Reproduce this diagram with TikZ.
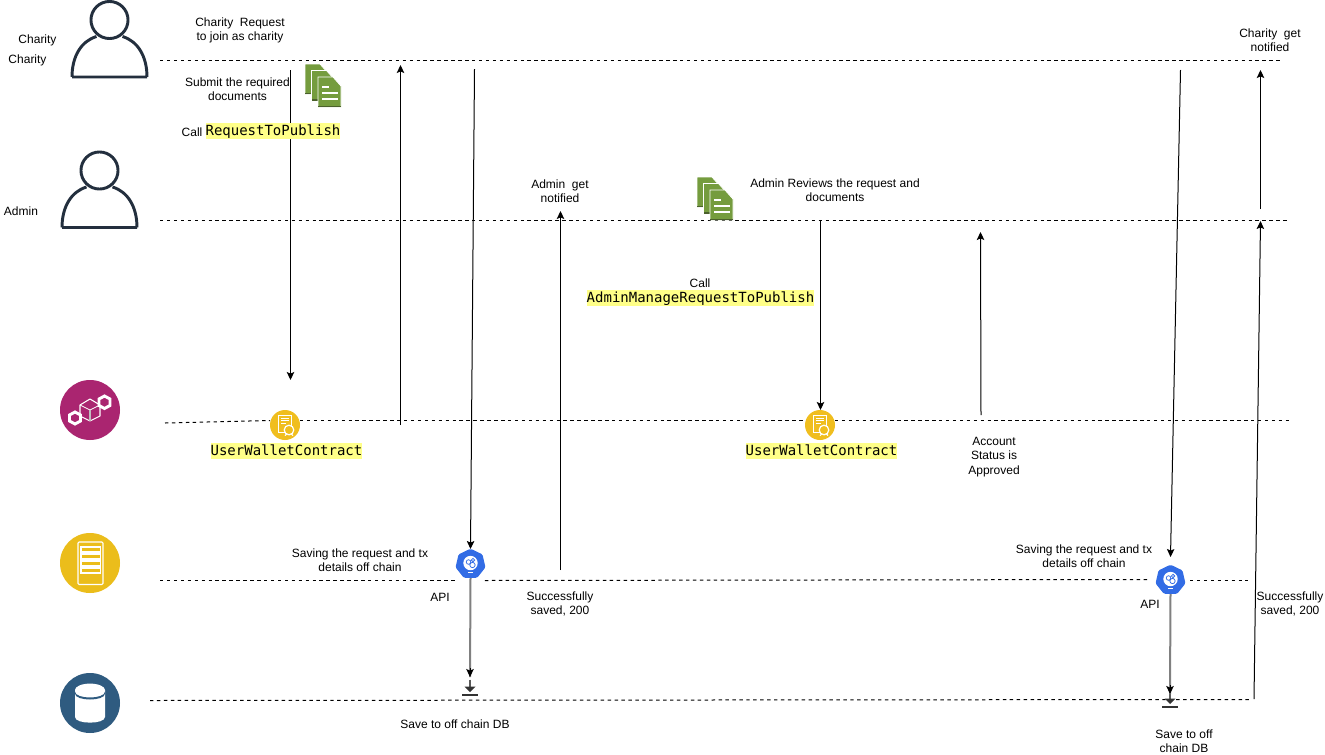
\documentclass[tikz,border=0pt]{standalone}
\usepackage{fontspec}
\setmainfont{Liberation Sans}
\setmonofont{DejaVu Sans Mono}
\usetikzlibrary{arrows.meta,shapes.geometric}
\definecolor{actorc}{HTML}{232F3E}
\definecolor{docc}{HTML}{759C3E}
\definecolor{docd}{HTML}{4B612C}
\definecolor{contractc}{HTML}{F0BE1E}
\definecolor{chainc}{HTML}{AA2570}
\definecolor{serverc}{HTML}{EBBD1B}
\definecolor{dbc}{HTML}{2F5B80}
\definecolor{kubec}{HTML}{326CE5}
\definecolor{hl}{HTML}{FFFF88}
\tikzset{
  lifeline/.style={draw=black,line width=.75pt,dash pattern=on 2.6pt off 2.6pt},
  msg/.style={draw=black,line width=.75pt,-{Stealth[length=6pt,width=5.6pt,inset=1.2pt]}},
  gmsg/.style={draw=gray,line width=1.5pt},
  gtip/.style={draw=black,line width=.75pt,-{Stealth[length=6pt,width=5.6pt,inset=1.2pt]}},
  lbl/.style={align=center,inner sep=0pt,font=\fontsize{9}{10.6}\selectfont},
  code/.style={inner sep=0pt,fill=hl,font=\ttfamily\fontsize{10.5}{12}\selectfont,text height=9.6pt,text depth=2.4pt},
  badge/.style={circle,inner sep=0pt,minimum size=45pt},
  contract/.style={circle,inner sep=0pt,minimum size=22.5pt,fill=contractc},
  kube/.style={regular polygon,regular polygon sides=7,inner sep=0pt,minimum size=23pt,fill=kubec,rounded corners=1pt},
  actorline/.style={draw=actorc,line width=2.2pt,line join=round},
  pics/actorpic/.style={code={
    \draw[actorline] (0,0) circle[radius=13.9pt];
    \draw[actorline] (-37.5,57) -- (37.5,57) (-37.5,57) .. controls (-37.5,36) and (-28,21) .. (-13,16.5)
       (37.5,57) .. controls (37.5,36) and (28,21) .. (13,16.5);
  }},
  pics/docspic/.style={code={
    \foreach \d in {0,6.5,13}{
      \fill[docc,draw=white,line width=.6pt] (\d,\d) -- (\d+15,\d) -- (\d+23,\d+9) -- (\d+23,\d+30) -- (\d,\d+30) -- cycle;
      \fill[docd] (\d,\d+28.8) rectangle (\d+23,\d+30);
    }
    \draw[white,line width=.9pt] (17,23) -- (24,23) (17,29) -- (33,29) (17,35) -- (33,35);
  }},
  pics/certpic/.style={code={
    \draw[white,line width=.6pt,fill=contractc] (-6.5,-10) rectangle (6.5,7);
    \draw[white,line width=.6pt] (-4,-7) -- (4,-7) (-4,-4.5) -- (4,-4.5) (-4,-2) -- (1,-2);
    \draw[white,line width=.9pt,fill=contractc] (4,5) circle[radius=3.6pt];
    \draw[white,line width=.8pt] (0,10.5) -- (2,8.5) (8,10.5) -- (6,8.5);
  }},
  pics/kubepic/.style={code={
    \fill[white] (0,-1) circle[radius=5.4pt];
    \draw[kubec,line width=.55pt] (-2,-2) circle[radius=1.7pt] (2.5,-4) circle[radius=1.3pt] (2,1) circle[radius=2pt];
    \fill[white] (-2.5,8) rectangle (2.5,9);
  }},
  pics/storepic/.style={code={
    \draw[gray!70!black,line width=2pt] (0,-15) -- (0,-6);
    \fill[gray!40!black] (-5.5,-8) -- (5.5,-8) -- (0,-2.5) -- cycle;
    \fill[gray!40!black] (-8,-1) rectangle (8,1.2);
  }},
}
\begin{document}
\begin{tikzpicture}[x=.75pt,y=-.75pt]
\useasboundingbox (0,0) rectangle (1325,754);
\fill[white] (0,0) rectangle (1325,754);

% lifeline anchors
\coordinate (lc1) at (160,60.5);  \coordinate (lc2) at (1280,60.5);
\coordinate (la1) at (160,220.5); \coordinate (la2) at (1290,220.5);
\coordinate (lb1) at (165,423);   \coordinate (lb2) at (1290,420.5);
\coordinate (ls1) at (160,580.5); \coordinate (ls2) at (1148,579.5);
\coordinate (ls3) at (1190,580.5); \coordinate (ls4) at (1248,580.5);
\coordinate (ld1) at (150,700.5); \coordinate (ld2) at (1252,699.5);

% contract and api nodes
\node[contract] (c1) at (285,425) {};
\node[contract] (c2) at (820,425) {};
\node[kube] (k1) at (470.5,564) {};
\node[kube] (k2) at (1170.5,580) {};
\pic at (285,425) {certpic};
\pic at (820,425) {certpic};
\pic at (470.5,564) {kubepic};
\pic at (1170.5,580) {kubepic};

% lifelines
\draw[lifeline] (lc1) -- (lc2);
\draw[lifeline] (la1) -- (la2);
\draw[lifeline] (lb1) -- (270,420.5);
\draw[lifeline] (300,420.5) -- (805,420.5);
\draw[lifeline] (835,420.5) -- (lb2);
\draw[lifeline] (ls1) -- (k1.west |- ls1);
\draw[lifeline] (k1.east |- ls1) -- (ls2);
\draw[lifeline] (ls3) -- (ls4);
\draw[lifeline] (ld1) -- (ld2);

% actors and badges
\pic at (109.5,20) {actorpic};
\pic at (99.5,170.5) {actorpic};
\node[badge,fill=chainc] (chain) at (90,410) {};
\node[badge,fill=serverc] (server) at (90,563) {};
\node[badge,fill=dbc] (db) at (90,703) {};

% chain glyph
\draw[white,line width=.8pt,line join=round] (90,399) -- (100,405) -- (100,416) -- (90,421) -- (80,416) -- (80,405) -- cycle;
\draw[white,line width=.6pt] (80,405) -- (90,410) -- (100,405);
\draw[gray!50!white,line width=.8pt] (90,410) -- (90,421);
\draw[white,line width=2.2pt] (104.5,396) -- (110,399) -- (110,405.5) -- (104.5,408.5) -- (99,405.5) -- (99,399) -- cycle;
\draw[white,line width=2.2pt] (75,412) -- (80.5,415) -- (80.5,421) -- (75,424) -- (69.5,421) -- (69.5,415) -- cycle;
% server glyph
\draw[white,line width=.8pt,rounded corners=.8pt] (78,542) rectangle (103,584.5);
\foreach \yy in {547,554,561,568}{
  \draw[white,line width=.8pt,fill=serverc] (81,\yy) rectangle (100.5,\yy+5);
}
% db glyph
\fill[white] (75,690) -- (75,717) .. controls (75,724.5) and (105,724.5) .. (105,717) -- (105,690) -- cycle;
\fill[white] (90,690) ellipse[x radius=11.25pt,y radius=4.8pt];
\fill[dbc] (75,691.5) .. controls (75,699.5) and (105,699.5) .. (105,691.5) -- (105,693.5) .. controls (105,701.5) and (75,701.5) .. (75,693.5) -- cycle;

% documents
\pic at (305,64) {docspic};
\pic at (697,177) {docspic};

% stores
\pic at (470,694.5) {storepic};
\pic at (1170,706.5) {storepic};

% messages
\coordinate (m1a) at (290.5,70);   \coordinate (m1b) at (290.5,380);
\coordinate (m2a) at (400.5,425);  \coordinate (m2b) at (400.5,65);
\coordinate (m3a) at (474.5,69);   \coordinate (m3b) at (470.5,549);
\coordinate (m4a) at (560.5,570);  \coordinate (m4b) at (560.5,211);
\coordinate (m5a) at (820.5,220.5);\coordinate (m5b) at (820.5,410);
\coordinate (m6a) at (981,415);    \coordinate (m6b) at (980.5,232);
\coordinate (m7a) at (1180.5,70);  \coordinate (m7b) at (1170.5,557);
\coordinate (m8a) at (1260.5,209); \coordinate (m8b) at (1260.5,70);
\coordinate (m9a) at (1254,699);   \coordinate (m9b) at (1260.5,221);
\coordinate (g1) at (470,677);     \coordinate (g2) at (1170,694);
\draw[msg] (m1a) -- (m1b);
\draw[msg] (m2a) -- (m2b);
\draw[msg] (m3a) -- (m3b);
\draw[msg] (m4a) -- (m4b);
\draw[msg] (m5a) -- (m5b);
\draw[msg] (m6a) -- (m6b);
\draw[msg] (m7a) -- (m7b);
\draw[msg] (m8a) -- (m8b);
\draw[msg] (m9a) -- (m9b);
\draw[gmsg] (k1.south) -- (g1);
\draw[gmsg] (k2.south) -- (g2);
\draw[gtip] (470,668) -- (g1);
\draw[gtip] (1170,685) -- (g2);

% labels
\node[lbl] (t1) at (37.5,40) {Charity};
\node[lbl] (t2) at (27.5,60) {Charity};
\node[lbl] (t3) at (240,30) {Charity\ \ Request\\to join as charity};
\node[lbl] (t4) at (237.5,89) {Submit the required\\documents};
\node[lbl] (t5) at (192,132) {Call};
\node[code] (t6) at (273,131) {RequestToPublish};
\node[lbl] (t7) at (21,211) {Admin};
\node[lbl] (t8) at (560,191) {Admin\ \ get\\notified};
\node[lbl] (t9) at (835,190) {Admin Reviews the request and\\documents};
\node[lbl] (t10) at (700,283) {Call};
\node[code] (t11) at (700.5,298) {AdminManageRequestToPublish};
\node[lbl] (t12) at (1270,40) {Charity\ \ get\\notified};
\node[code] (t13) at (286.5,451) {UserWalletContract};
\node[code] (t14) at (821.5,451) {UserWalletContract};
\node[lbl] (t15) at (994,457) {Account\\Status is\\Approved};
\node[lbl] (t16) at (360,560) {Saving the request and tx\\details off chain};
\node[lbl] (t17) at (440,597) {API};
\node[lbl] (t18) at (560,604) {Successfully\\saved, 200};
\node[lbl] (t19) at (455,724) {Save to off chain DB};
\node[lbl] (t20) at (1084,556) {Saving the request and tx\\details off chain};
\node[lbl] (t21) at (1150,604) {API};
\node[lbl] (t22) at (1290,604) {Successfully\\saved, 200};
\node[lbl] (t23) at (1184,741) {Save to off\\chain DB};
\end{tikzpicture}
\end{document}
